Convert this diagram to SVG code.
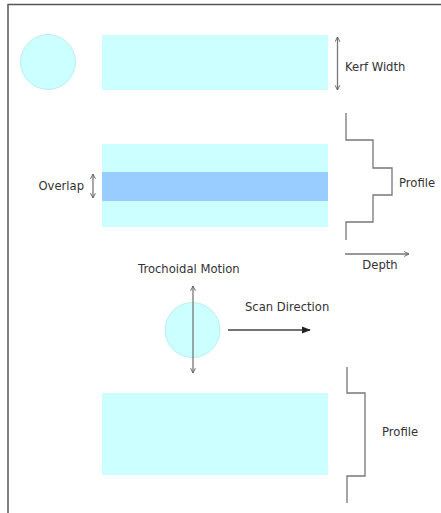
<svg xmlns="http://www.w3.org/2000/svg" width="441" height="513" viewBox="0 0 441 513">
<style>
.cut{fill:#ccffff;stroke:none}
.tool{fill:#ccffff;stroke:#bfeeee;stroke-width:1}
.ov{fill:#99ccff}
.ln{fill:none;stroke:#777;stroke-width:1.3}
.lbl{font-family:"DejaVu Sans",Verdana,sans-serif;font-size:11.6px;fill:#333}
</style>
<defs>
<marker id="v" viewBox="0 0 10 10" refX="9" refY="5" markerWidth="6" markerHeight="6" orient="auto-start-reverse" markerUnits="userSpaceOnUse">
<path d="M1,1 L9,5 L1,9" fill="none" stroke="#666" stroke-width="1.6"/>
</marker>
<marker id="tri" viewBox="0 0 10 10" refX="9" refY="5" markerWidth="9" markerHeight="9" orient="auto" markerUnits="userSpaceOnUse">
<path d="M0,1 L10,5 L0,9 Z" fill="#222"/>
</marker>
</defs>
<rect width="441" height="513" fill="#fff"/>
<path d="M8,513 V4.5 H441" fill="none" stroke="#555" stroke-width="1.5"/>

<g id="tool1"><circle class="tool" cx="48" cy="62" r="27.5"/></g>
<g id="kerf"><rect class="cut" x="102" y="35" width="226" height="55"/></g>

<g id="overlapCut">
<rect class="cut" x="102" y="144" width="226" height="83"/>
<rect class="ov" x="102" y="172" width="226" height="29"/>
</g>

<g id="tool2"><circle class="tool" cx="192.5" cy="330" r="27.5"/></g>
<g id="trochoidalCut"><rect class="cut" x="102" y="393" width="226" height="82"/></g>

<g id="connectors">
<line class="ln" x1="337.5" y1="37" x2="337.5" y2="90" marker-start="url(#v)" marker-end="url(#v)"/>
<line class="ln" x1="93" y1="174" x2="93" y2="198" marker-start="url(#v)" marker-end="url(#v)"/>
<path class="ln" d="M346,113 V140 H373 V168 H392 V195 H373 V222 H346 V240"/>
<line class="ln" x1="345" y1="254" x2="409" y2="254" marker-end="url(#v)"/>
<line class="ln" x1="193" y1="286" x2="193" y2="373" marker-start="url(#v)" marker-end="url(#v)"/>
<line x1="228" y1="330" x2="310" y2="330" stroke="#444" stroke-width="1.3" marker-end="url(#tri)"/>
<path class="ln" d="M347,367 V393 H365 V476 H347 V503"/>
</g>

<g id="labels">
<text class="lbl" x="345" y="71">Kerf Width</text>
<text class="lbl" x="84" y="190" text-anchor="end">Overlap</text>
<text class="lbl" x="399" y="187">Profile</text>
<text class="lbl" x="380" y="269" text-anchor="middle">Depth</text>
<text class="lbl" x="138" y="273">Trochoidal Motion</text>
<text class="lbl" x="245" y="311">Scan Direction</text>
<text class="lbl" x="382" y="436">Profile</text>
</g>
</svg>
